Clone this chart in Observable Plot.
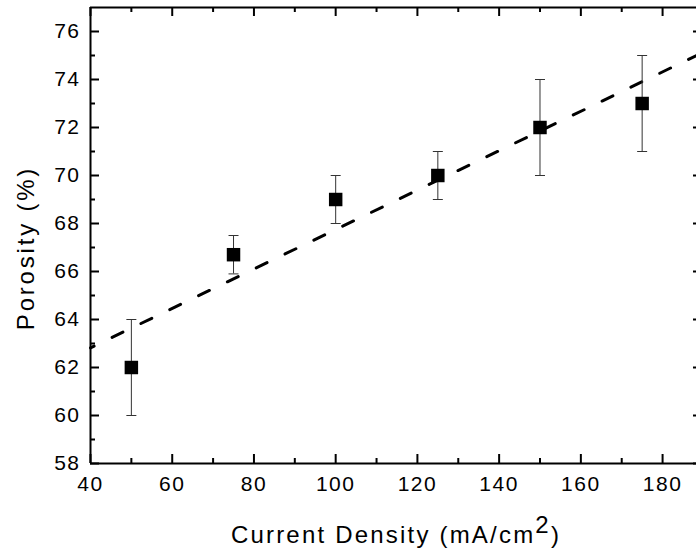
<!DOCTYPE html>
<html><head><meta charset="utf-8">
<script src="https://cdn.jsdelivr.net/npm/d3@7"></script>
<script src="https://cdn.jsdelivr.net/npm/@observablehq/plot@0.6"></script>
<style>html,body{margin:0;padding:0;background:#fff;} svg{display:block}</style>
</head><body><div id="chart"></div>
<script>
// Data
const density  = [50, 75, 100, 125, 150, 175];
const porosity = [62, 66.7, 69, 70, 72, 73];
const errLow   = [60, 65.9, 68, 69, 70, 71];
const errHigh  = [64, 67.5, 70, 71, 74, 75];
// Linear fit line (dashed), endpoints
const fitX = [40, 188.3];
const fitY = [62.82, 75.0];
// Tick values
const xMajor = [40, 60, 80, 100, 120, 140, 160, 180];
const xMinor = [50, 70, 90, 110, 130, 150, 170];
const yMajor = [58, 60, 62, 64, 66, 68, 70, 72, 74, 76];
const yMinor = [59, 61, 63, 65, 67, 69, 71, 73, 75];
const xLabel = "Current Density (mA/cm";
const yLabel = "Porosity (%)";

const points = density.map((d, i) => ({x: d, y: porosity[i], lo: errLow[i], hi: errHigh[i]}));
const fit = fitX.map((x, i) => ({x, y: fitY[i]}));

const W = 696, H = 554;
const mL = 90, mR = 0, mT = 7, mB = 91;
const pw = W - mL - mR, ph = H - mT - mB;

const capSymbol = {draw(ctx, size) { const w = Math.sqrt(size / Math.PI); ctx.moveTo(-w, 0); ctx.lineTo(w, 0); }};

const chart = Plot.plot({
  width: W, height: H,
  marginLeft: mL, marginRight: mR, marginTop: mT, marginBottom: mB,
  style: {fontFamily: "'Liberation Sans', Arial, sans-serif", fontSize: "21px", color: "#000", background: "#fff", letterSpacing: "1.5px"},
  x: {domain: [40, 188.3], axis: null},
  y: {domain: [58, 77], axis: null},
  marks: [
    // tick labels
    Plot.axisX({ticks: xMajor, tickSize: 0, tickPadding: 13, tickFormat: d => String(d), fontSize: 21, label: null}),
    Plot.axisY({ticks: yMajor, tickSize: 0, tickPadding: 10, tickFormat: d => String(d), fontSize: 21, label: null}),
    // ticks (inward)
    Plot.ruleX(xMajor, {insetTop: ph - 9, stroke: "#000", strokeWidth: 2}),
    Plot.ruleX(xMinor, {insetTop: ph - 5, stroke: "#000", strokeWidth: 2}),
    Plot.ruleX(xMajor, {insetBottom: ph - 9, stroke: "#000", strokeWidth: 2}),
    Plot.ruleX(xMinor, {insetBottom: ph - 5, stroke: "#000", strokeWidth: 2}),
    Plot.ruleY(yMajor, {insetRight: pw - 9, stroke: "#000", strokeWidth: 2}),
    Plot.ruleY(yMinor, {insetRight: pw - 5, stroke: "#000", strokeWidth: 2}),
    Plot.ruleY(yMajor, {insetLeft: pw - 3, stroke: "#000", strokeWidth: 2}),
    // frame lines
    Plot.ruleX([40], {stroke: "#000", strokeWidth: 2}),
    Plot.ruleY([58], {stroke: "#000", strokeWidth: 2}),
    Plot.ruleY([77], {stroke: "#000", strokeWidth: 2}),
    // fit line
    Plot.line(fit, {x: "x", y: "y", stroke: "#000", strokeWidth: 3, strokeDasharray: "12,20", strokeLinecap: "round", strokeDashoffset: 8}),
    // error bars
    Plot.ruleX(points, {x: "x", y1: "lo", y2: "hi", stroke: "#333", strokeWidth: 1}),
    Plot.dot(points, {x: "x", y: "lo", symbol: capSymbol, r: 5, stroke: "#333", strokeWidth: 1, fill: "none"}),
    Plot.dot(points, {x: "x", y: "hi", symbol: capSymbol, r: 5, stroke: "#333", strokeWidth: 1, fill: "none"}),
    // markers
    Plot.dot(points, {x: "x", y: "y", symbol: "square", r: 7.6, fill: "#000", stroke: "none"})
  ]
});

const svg = d3.select(chart);
// axis titles
const xt = svg.append("text")
  .attr("x", 396).attr("y", 543)
  .attr("text-anchor", "middle")
  .attr("font-size", 24).attr("letter-spacing", "2.2px")
  .attr("fill", "#000");
xt.append("tspan").text(xLabel);
xt.append("tspan").attr("dy", -10).text("2");
xt.append("tspan").attr("dy", 10).text(")");

svg.append("text")
  .attr("transform", "translate(34,248) rotate(-90)")
  .attr("text-anchor", "middle")
  .attr("font-size", 24).attr("letter-spacing", "2.8px")
  .attr("fill", "#000")
  .text(yLabel);

document.getElementById("chart").appendChild(chart);
</script>
</body></html>
